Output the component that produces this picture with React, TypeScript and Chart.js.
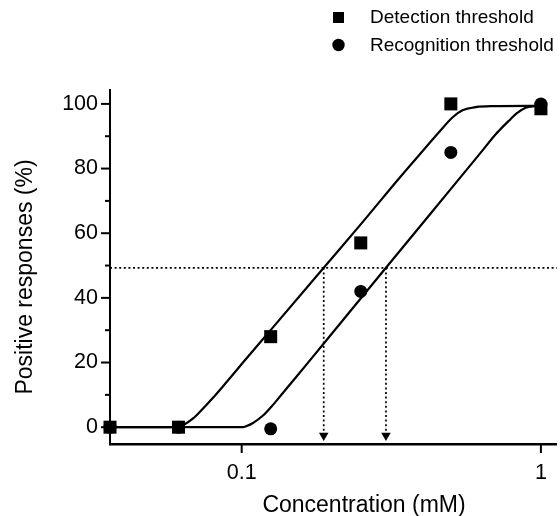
import { useEffect, useRef } from "react";
import { Chart, registerables } from "chart.js";

Chart.register(...registerables);

// ---- data ----
const concentrations = [0.0363, 0.0615, 0.125, 0.25, 0.5, 1];
const detectionPct = [0, 0, 28, 57, 100, 98.5];
const recognitionPct = [0, 0, -0.5, 42, 85, 100];

// fitted curves
const detectionFitX = [0.0363, 0.0613, 0.0637, 0.0688, 0.0743, 0.0802, 0.0889, 0.101, 0.127, 0.188, 0.254, 0.336, 0.392, 0.457, 0.506, 0.547, 0.606, 0.688, 1.0];
const detectionFitY = [0, 0, 0.6, 2.7, 5.8, 9.1, 13.9, 20.0, 30.8, 49.3, 63.5, 77.0, 84.2, 91.3, 95.8, 98.0, 99.0, 99.3, 99.4];
const recognitionFitX = [0.0363, 0.101, 0.1035, 0.1091, 0.1178, 0.1272, 0.1373, 0.1521, 0.1866, 0.3035, 0.4342, 0.6215, 0.7063, 0.7819, 0.8337, 0.8892, 0.95, 1.0];
const recognitionFitY = [0, 0, 0.3, 1.3, 3.6, 6.9, 10.6, 15.5, 25.5, 49.3, 66.8, 84.3, 90.6, 94.8, 97.2, 98.8, 99.3, 99.4];

const thresholdPct = 49.3;
const thresholdConc = [0.188, 0.3035];

const xTicks = [0.1, 1];
const yTicks = [0, 20, 40, 60, 80, 100];
const yMinorTicks = [10, 30, 50, 70, 90];

const legendLabels = ["Detection threshold", "Recognition threshold"];
const xTitle = "Concentration (mM)";
const yTitle = "Positive responses (%)";

const X_MIN = 0.0363;
const X_MAX = 1.13;
const Y_MIN = -5.2;
const Y_MAX = 104.3;
const ARROW_Y = -2.6;

const FONT = '"Liberation Sans", Arial, Helvetica, sans-serif';
const CANVAS_W = 566;

const decorations = {
  id: "decorations",
  afterDraw(chart: any) {
    const { ctx, chartArea, scales } = chart;
    const x = scales.x;
    const y = scales.y;
    ctx.save();
    ctx.strokeStyle = "#000";
    ctx.fillStyle = "#000";
    // y ticks
    ctx.lineWidth = 2;
    yTicks.forEach((v) => {
      const py = y.getPixelForValue(v);
      ctx.beginPath();
      ctx.moveTo(chartArea.left - 9, py);
      ctx.lineTo(chartArea.left, py);
      ctx.stroke();
    });
    yMinorTicks.forEach((v) => {
      const py = y.getPixelForValue(v);
      ctx.beginPath();
      ctx.moveTo(chartArea.left - 5, py);
      ctx.lineTo(chartArea.left, py);
      ctx.stroke();
    });
    // x ticks
    xTicks.forEach((v) => {
      const px = x.getPixelForValue(v);
      ctx.beginPath();
      ctx.moveTo(px, chartArea.bottom);
      ctx.lineTo(px, chartArea.bottom + 9);
      ctx.stroke();
    });
    // axis titles
    ctx.font = `23px ${FONT}`;
    ctx.textAlign = "center";
    ctx.textBaseline = "alphabetic";
    ctx.fillText(xTitle, 364, 512);
    ctx.save();
    ctx.translate(32, 277);
    ctx.rotate(-Math.PI / 2);
    ctx.fillText(yTitle, 0, 0);
    ctx.restore();
    // legend
    ctx.font = `19px ${FONT}`;
    ctx.textAlign = "left";
    ctx.textBaseline = "middle";
    ctx.fillRect(333, 12, 11, 11);
    ctx.fillText(legendLabels[0], 370, 18);
    ctx.beginPath();
    ctx.arc(338.5, 45, 6.2, 0, Math.PI * 2);
    ctx.fill();
    ctx.fillText(legendLabels[1], 370, 46);
    ctx.restore();
  },
};

export default function App() {
  const ref = useRef<HTMLCanvasElement | null>(null);
  useEffect(() => {
    if (!ref.current) return;
    const pts = (xs: number[], ys: number[]) => xs.map((v, i) => ({ x: v, y: ys[i] }));
    const dotted = [2, 2.6];
    const chart = new Chart(ref.current, {
      type: "scatter",
      data: {
        datasets: [
          {
            label: "threshold level",
            data: [
              { x: X_MIN, y: thresholdPct },
              { x: X_MAX, y: thresholdPct },
            ],
            showLine: true,
            borderColor: "#000",
            borderWidth: 1.7,
            borderDash: dotted,
            pointRadius: 0,
            clip: false,
          } as any,
          ...thresholdConc.map((c) => ({
            label: "threshold " + c,
            data: [
              { x: c, y: thresholdPct },
              { x: c, y: ARROW_Y },
            ],
            showLine: true,
            borderColor: "#000",
            borderWidth: 1.7,
            borderDash: dotted,
            pointRadius: [0, 5.5],
            pointStyle: "triangle",
            rotation: 180,
            backgroundColor: "#000",
            pointBackgroundColor: "#000",
            pointBorderColor: "#000",
            pointBorderWidth: 0,
            clip: false,
          } as any)),
          {
            label: "detection fit",
            data: pts(detectionFitX, detectionFitY),
            showLine: true,
            borderColor: "#000",
            borderWidth: 2.2,
            pointRadius: 0,
            cubicInterpolationMode: "monotone",
          } as any,
          {
            label: "recognition fit",
            data: pts(recognitionFitX, recognitionFitY),
            showLine: true,
            borderColor: "#000",
            borderWidth: 2.2,
            pointRadius: 0,
            cubicInterpolationMode: "monotone",
          } as any,
          {
            label: legendLabels[0],
            data: pts(concentrations, detectionPct),
            pointStyle: "rect",
            pointRadius: 9.2,
            pointBackgroundColor: "#000",
            pointBorderColor: "#000",
            pointBorderWidth: 0,
            clip: false,
          } as any,
          {
            label: legendLabels[1],
            data: pts(concentrations, recognitionPct),
            pointStyle: "circle",
            pointRadius: 6.5,
            pointBackgroundColor: "#000",
            pointBorderColor: "#000",
            pointBorderWidth: 0,
            clip: false,
          } as any,
        ],
      },
      options: {
        animation: false,
        responsive: false,
        devicePixelRatio: 1,
        layout: { padding: { top: 90, right: 2, left: 0, bottom: 0 } },
        plugins: {
          legend: { display: false },
          tooltip: { enabled: false },
          title: { display: false },
        },
        events: [],
        scales: {
          x: {
            type: "logarithmic",
            min: X_MIN,
            max: X_MAX,
            afterBuildTicks: (s: any) => {
              s.ticks = xTicks.map((v) => ({ value: v }));
            },
            afterFit: (s: any) => {
              s.height = 72;
              s.paddingLeft = 0;
              s.paddingRight = 0;
            },
            grid: { display: true, drawOnChartArea: false, drawTicks: false },
            border: { display: true, color: "#000", width: 2.5 },
            ticks: {
              color: "#000",
              padding: 16,
              font: { family: FONT, size: 21.5 },
              callback: (v: any) => String(v),
              maxRotation: 0,
              autoSkip: false,
            },
          },
          y: {
            type: "linear",
            min: Y_MIN,
            max: Y_MAX,
            afterBuildTicks: (s: any) => {
              s.ticks = yTicks.map((v) => ({ value: v }));
            },
            afterFit: (s: any) => {
              s.width = 110;
              s.paddingTop = 0;
              s.paddingBottom = 0;
            },
            grid: { display: true, drawOnChartArea: false, drawTicks: false },
            border: { display: true, color: "#000", width: 2 },
            ticks: {
              color: "#000",
              padding: 12,
              font: { family: FONT, size: 21.5 },
              callback: (v: any) => String(v),
              autoSkip: false,
            },
          },
        },
      } as any,
      plugins: [decorations],
    });
    return () => chart.destroy();
  }, []);
  return (
    <div style={{ position: "fixed", left: 0, top: 0, width: 560, height: 516, overflow: "hidden", background: "#fff" }}>
      <canvas ref={ref} width={CANVAS_W} height={516} style={{ width: CANVAS_W, height: 516, display: "block" }} />
    </div>
  );
}
